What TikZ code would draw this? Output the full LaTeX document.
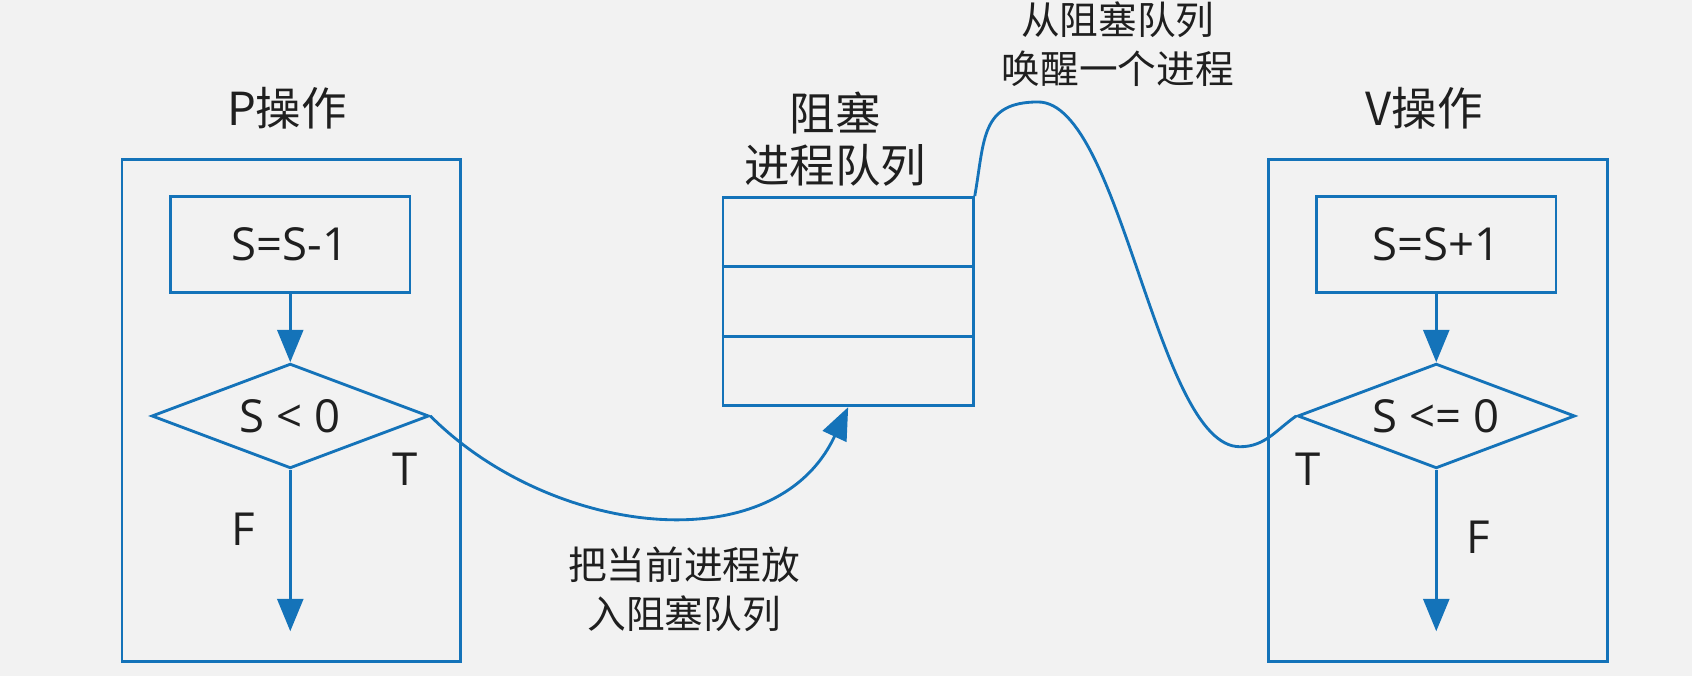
\documentclass[tikz,border=0pt]{standalone}
\usepackage{fontspec}
\setmainfont{Noto Sans CJK SC}
\newfontfamily\latinfont{Open Sans}
\usepackage{tikz}
\usetikzlibrary{arrows.meta, positioning, shapes.geometric, calc}
\definecolor{flowblue}{RGB}{20,115,185}
\definecolor{bggray}{RGB}{242,242,242}
\colorlet{textgray}{black!88}

\begin{document}
\begin{tikzpicture}[
    opframe/.style={draw=flowblue, line width=0.75pt, minimum width=3.14cm, minimum height=4.65cm, inner sep=0pt},
    opbox/.style={draw=flowblue, line width=0.75pt, minimum width=2.22cm, minimum height=0.89cm, text=textgray, font=\latinfont\fontsize{12}{14}\selectfont},
    optest/.style={diamond, draw=flowblue, line width=0.75pt, minimum width=2.57cm, minimum height=0.97cm, shape aspect=2.65, inner sep=1pt, text=textgray, font=\latinfont\fontsize{12}{14}\selectfont},
    optitle/.style={align=center, text=textgray, font=\fontsize{12}{13.6}\selectfont},
    opnote/.style={align=center, text=textgray, font=\fontsize{10.2}{13}\selectfont},
    oplabel/.style={text=textgray, font=\latinfont\fontsize{12}{14}\selectfont},
    flowarrow/.style={-{Triangle[length=3mm, width=2.4mm]}, draw=flowblue, line width=0.75pt},
    flowline/.style={draw=flowblue, line width=0.75pt}
  ]
    \fill[bggray] (0,0) rectangle (15.68,6.26);
    \useasboundingbox (0,0) rectangle (15.68,6.26);

    % P side
    \node[optitle] (ptitle) at (2.66,5.26) {P操作};
    \node[opframe] (pframe) at (2.70,2.455) {};
    \node[opbox] (pdec) at (2.69,3.995) {S=S-1};
    \node[optest] (ptest) at (2.69,2.405) {S < 0};
    \coordinate (pend) at (2.69,0.41);
    \draw[flowarrow] (pdec.south) -- (ptest.north);
    \draw[flowarrow] (ptest.south) -- (pend);
    \node[oplabel] (pt) at (3.75,1.91) {T};
    \node[oplabel] (pf) at (2.25,1.36) {F};

    % blocked queue
    \node[optitle] (qtitle) at (7.74,4.97) {阻塞\\进程队列};
    \node[flowline, minimum width=2.32cm, minimum height=1.93cm] (queue) at (7.86,3.465) {};
    \foreach \f in {0.3333,0.6667}
      \draw[flowline] ($(queue.north west)!\f!(queue.south west)$) -- ($(queue.north east)!\f!(queue.south east)$);

    % V side
    \node[optitle] (vtitle) at (13.20,5.26) {V操作};
    \node[opframe] (vframe) at (13.325,2.455) {};
    \node[opbox] (vinc) at (13.31,3.995) {S=S+1};
    \node[optest] (vtest) at (13.31,2.405) {S <= 0};
    \coordinate (vend) at (13.31,0.41);
    \draw[flowarrow] (vinc.south) -- (vtest.north);
    \draw[flowarrow] (vtest.south) -- (vend);
    \node[oplabel] (vt) at (12.12,1.91) {T};
    \node[oplabel] (vf) at (13.70,1.28) {F};

    % block / wake up
    \draw[flowarrow] (ptest.east) to[out=-45, in=-115, looseness=1.05] (queue.south);
    \node[opnote] (blocknote) at (6.34,0.80) {把当前进程放\\入阻塞队列};

    \coordinate (wtop) at (9.62,5.315);
    \coordinate (wlow) at (11.49,2.12);
    \draw[flowline] (queue.north east) to[out=80, in=180, looseness=1.3] (wtop)
      .. controls +(0.77,0) and +(-0.77,0) .. (wlow) to[out=0, in=-145] (vtest.west);
    \node[opnote] (wakenote) at (10.36,5.85) {从阻塞队列\\唤醒一个进程};
  \end{tikzpicture}
\end{document}
